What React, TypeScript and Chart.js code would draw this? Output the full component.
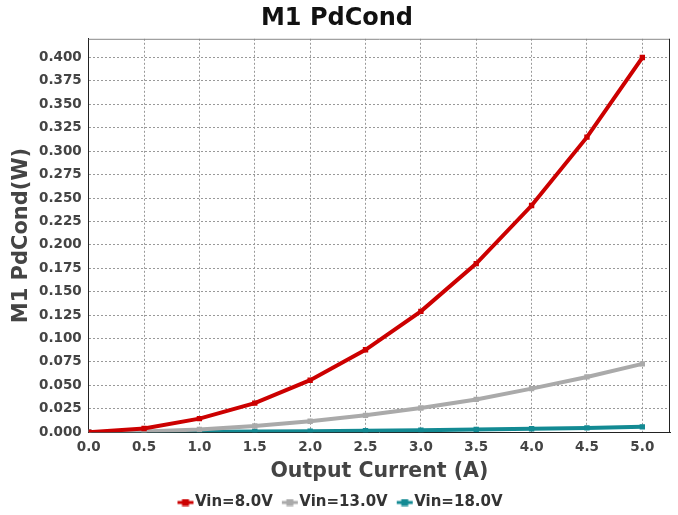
import React, { useEffect, useRef } from "react";
import { Chart, registerables } from "chart.js";

Chart.register(...registerables);

const xValues = [0, 0.5, 1.0, 1.5, 2.0, 2.5, 3.0, 3.5, 4.0, 4.5, 5.0];
const vin8 = [0.0, 0.004, 0.0145, 0.031, 0.0555, 0.088, 0.129, 0.18, 0.242, 0.315, 0.4];
const vin13 = [0.0, 0.0008, 0.003, 0.0066, 0.0117, 0.018, 0.0258, 0.035, 0.0465, 0.059, 0.073];
const vin18 = [0.0, 0.0002, 0.0004, 0.0007, 0.0011, 0.0016, 0.0022, 0.0029, 0.0037, 0.0046, 0.0057];
const xTicks = [0, 0.5, 1.0, 1.5, 2.0, 2.5, 3.0, 3.5, 4.0, 4.5, 5.0];
const yTicks = [0, 0.025, 0.05, 0.075, 0.1, 0.125, 0.15, 0.175, 0.2, 0.225, 0.25, 0.275, 0.3, 0.325, 0.35, 0.375, 0.4];
const seriesNames = ["Vin=8.0V", "Vin=13.0V", "Vin=18.0V"];
const seriesColors = ["#cc0000", "#aaaaaa", "#138a93"];

// legend marker: line with a square; drawn in the right part of a wider image
function legendIcon(color: string) {
  const c = document.createElement("canvas");
  c.width = 30;
  c.height = 8;
  const ctx = c.getContext("2d")!;
  ctx.fillStyle = color;
  ctx.fillRect(13, 2.5, 16, 3);
  ctx.fillRect(17.5, 0.5, 7, 7);
  return c;
}

const borderPlugin = {
  id: "plotBorder",
  afterDraw(chart: any) {
    const { ctx, chartArea } = chart;
    ctx.save();
    ctx.lineWidth = 1;
    ctx.strokeStyle = "#888888";
    ctx.beginPath();
    ctx.moveTo(chartArea.left, chartArea.top + 0.5);
    ctx.lineTo(chartArea.right, chartArea.top + 0.5);
    ctx.stroke();
    ctx.strokeStyle = "#222222";
    ctx.beginPath();
    ctx.moveTo(chartArea.right - 0.5, chartArea.top);
    ctx.lineTo(chartArea.right - 0.5, chartArea.bottom);
    ctx.stroke();
    ctx.restore();
  },
};

export default function App() {
  const ref = useRef<HTMLCanvasElement>(null);
  useEffect(() => {
    document.body.style.margin = "0";
    const font = "'DejaVu Sans', sans-serif";
    const datasets = [vin8, vin13, vin18].map((vals, i) => ({
      label: seriesNames[i],
      data: vals.map((v, j) => ({ x: xValues[j], y: v })),
      borderColor: seriesColors[i],
      backgroundColor: seriesColors[i],
      borderWidth: 4,
      pointStyle: "rect",
      pointRadius: 3.8,
      pointHoverRadius: 3.8,
      pointBorderWidth: 0,
      tension: 0,
    }));
    const chart = new Chart(ref.current!, {
      type: "line",
      data: { datasets: datasets as any },
      plugins: [borderPlugin],
      options: {
        animation: false,
        responsive: false,
        layout: { padding: { left: 4, right: 8, top: 2, bottom: -5 } },
        plugins: {
          title: {
            display: true,
            text: "M1 PdCond",
            color: "#111111",
            font: { family: font, size: 24, weight: "bold" },
            padding: { top: 2, bottom: 6 },
          },
          legend: {
            position: "bottom",
            labels: {
              usePointStyle: true,
              pointStyleWidth: 16,
              boxHeight: 8,
              color: "#333333",
              font: { family: font, size: 15, weight: "bold" },
              padding: 3,
              generateLabels: () =>
                seriesNames.map((n, i) => ({
                  text: n,
                  pointStyle: legendIcon(seriesColors[i]),
                  fillStyle: seriesColors[i],
                  strokeStyle: seriesColors[i],
                  lineWidth: 0,
                  hidden: false,
                  datasetIndex: i,
                  fontColor: "#333333",
                })) as any,
            },
          },
          tooltip: { enabled: false },
        },
        scales: {
          x: {
            type: "linear",
            min: 0,
            max: 5.25,
            afterBuildTicks: (axis: any) => {
              axis.ticks = xTicks.map((v) => ({ value: v }));
            },
            ticks: {
              color: "#444444",
              font: { family: font, size: 13.5, weight: "bold" },
              maxRotation: 0,
              padding: 7,
              callback: (v: any) => Number(v).toFixed(1),
            },
            grid: { color: "#999999", drawTicks: false, tickLength: 0 },
            border: { display: true, color: "#222222", width: 1, dash: [2, 2] as any },
            title: {
              display: true,
              text: "Output Current (A)",
              color: "#444444",
              font: { family: font, size: 20.5, weight: "bold" },
              padding: { top: -3, bottom: 8 },
            },
          },
          y: {
            type: "linear",
            min: 0,
            max: 0.42,
            afterBuildTicks: (axis: any) => {
              axis.ticks = yTicks.map((v) => ({ value: v }));
            },
            ticks: {
              color: "#444444",
              font: { family: font, size: 13.5, weight: "bold" },
              padding: 7,
              callback: (v: any) => Number(v).toFixed(3),
            },
            grid: { color: "#999999", drawTicks: false, tickLength: 0 },
            border: { display: true, color: "#222222", width: 1, dash: [2, 2] as any },
            title: {
              display: true,
              text: "M1 PdCond(W)",
              color: "#444444",
              font: { family: font, size: 21, weight: "bold", lineHeight: 1 },
              padding: { top: 7, bottom: 0 },
            },
          },
        },
      },
    });
    return () => chart.destroy();
  }, []);
  return (
    <div style={{ position: "absolute", left: 0, top: 0, width: 678, height: 515 }}>
      <canvas ref={ref} width={678} height={515} style={{ width: 678, height: 515 }} />
    </div>
  );
}
